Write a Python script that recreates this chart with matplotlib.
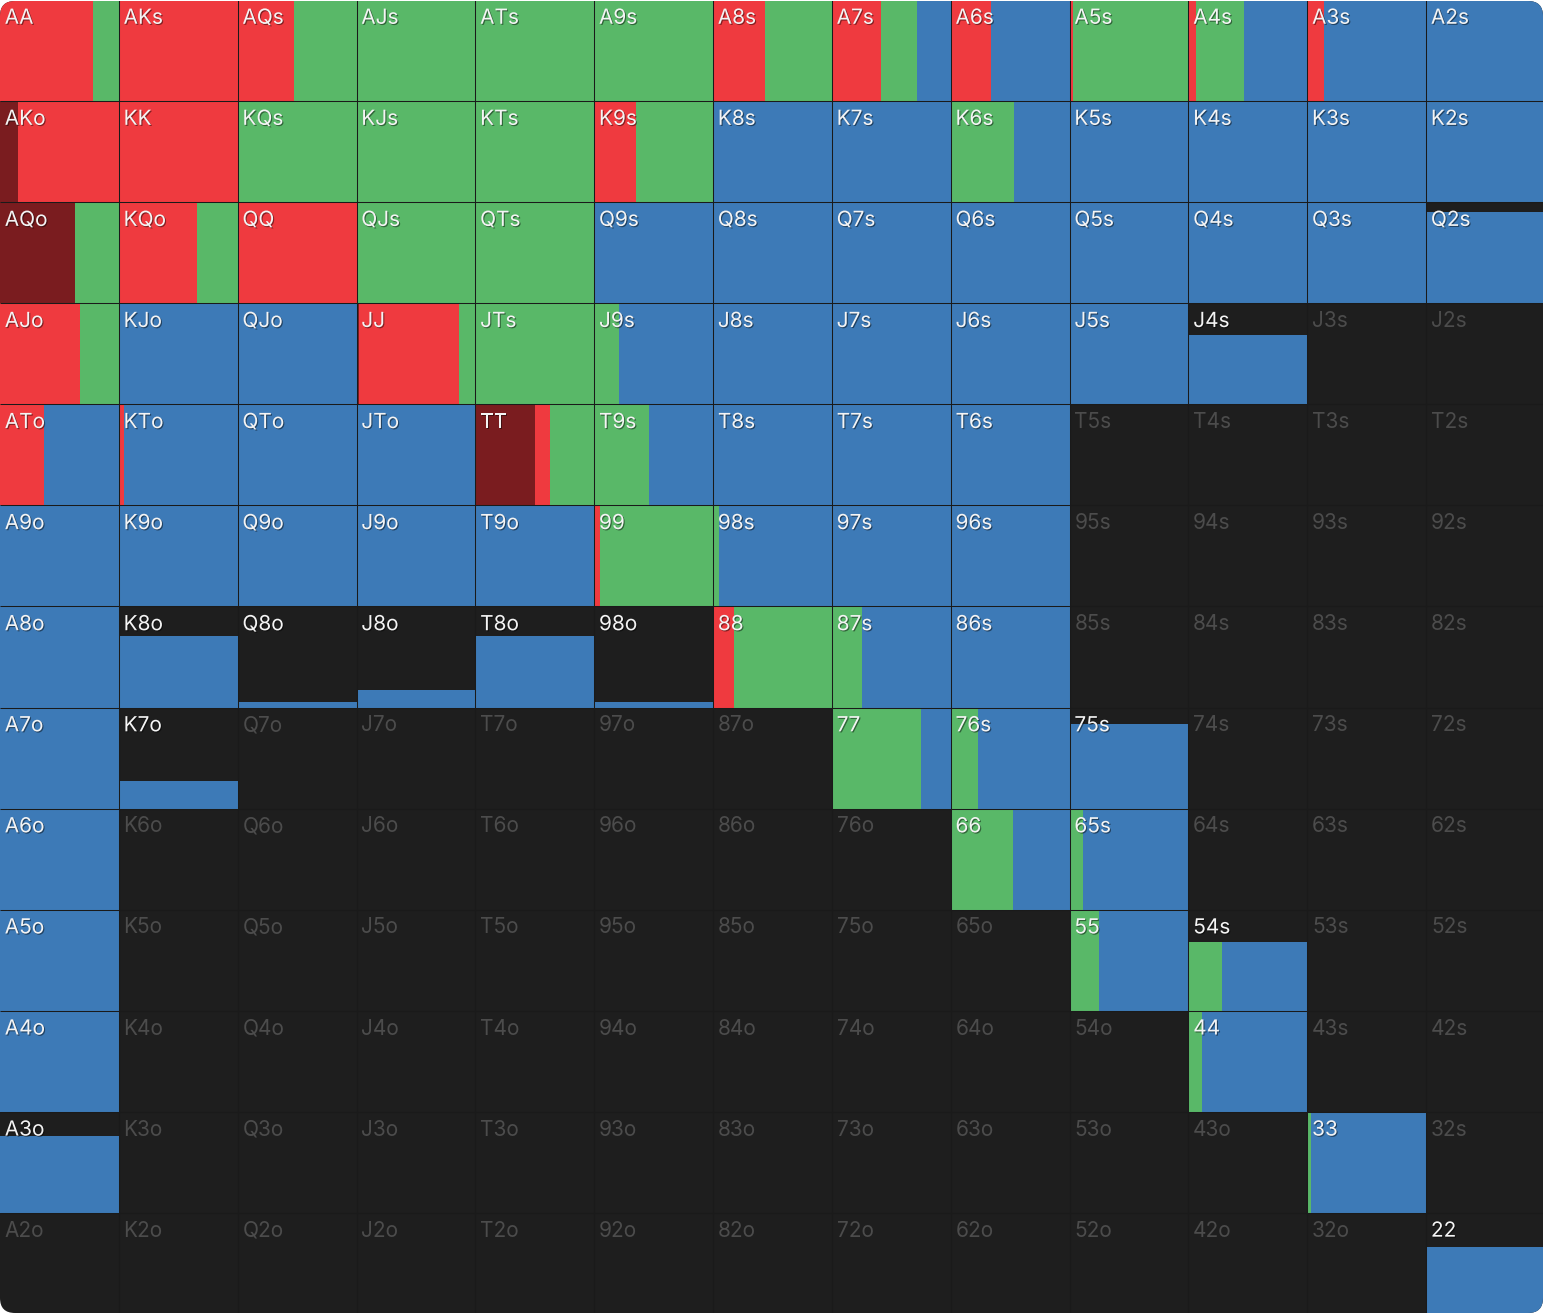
import matplotlib
matplotlib.use('Agg')
import matplotlib.pyplot as plt
from matplotlib.patches import FancyBboxPatch
from matplotlib.transforms import IdentityTransform
import matplotlib.patheffects as pe

plt.rcParams['font.family'] = ['Inter', 'DejaVu Sans']

ranks = 'AKQJT98765432'

# hands that are in the range, with the share of combos played (bar height)
# and how that share splits between the four actions (left to right)
hands = ['AA', 'AKs', 'AQs', 'AJs', 'ATs', 'A9s', 'A8s', 'A7s', 'A6s', 'A5s', 'A4s', 'A3s', 'A2s',
         'AKo', 'KK', 'KQs', 'KJs', 'KTs', 'K9s', 'K8s', 'K7s', 'K6s', 'K5s', 'K4s', 'K3s', 'K2s',
         'AQo', 'KQo', 'QQ', 'QJs', 'QTs', 'Q9s', 'Q8s', 'Q7s', 'Q6s', 'Q5s', 'Q4s', 'Q3s', 'Q2s',
         'AJo', 'KJo', 'QJo', 'JJ', 'JTs', 'J9s', 'J8s', 'J7s', 'J6s', 'J5s', 'J4s',
         'ATo', 'KTo', 'QTo', 'JTo', 'TT', 'T9s', 'T8s', 'T7s', 'T6s',
         'A9o', 'K9o', 'Q9o', 'J9o', 'T9o', '99', '98s', '97s', '96s',
         'A8o', 'K8o', 'Q8o', 'J8o', 'T8o', '98o', '88', '87s', '86s',
         'A7o', 'K7o', '77', '76s', '75s',
         'A6o', '66', '65s',
         'A5o', '55', '54s',
         'A4o', '44',
         'A3o', '33',
         '22']
freq = [1, 1, 1, 1, 1, 1, 1, 1, 1, 1, 1, 1, 1,
        1, 1, 1, 1, 1, 1, 1, 1, 1, 1, 1, 1, 1,
        1, 1, 1, 1, 1, 1, 1, 1, 1, 1, 1, 1, 0.9,
        1, 1, 1, 1, 1, 1, 1, 1, 1, 1, 0.69,
        1, 1, 1, 1, 1, 1, 1, 1, 1,
        1, 1, 1, 1, 1, 1, 1, 1, 1,
        1, 0.71, 0.05, 0.17, 0.71, 0.05, 1, 1, 1,
        1, 0.27, 1, 1, 0.84,
        1, 1, 1,
        1, 1, 0.68,
        1, 1,
        0.76, 1,
        0.66]
allin = [0, 0, 0, 0, 0, 0, 0, 0, 0, 0, 0, 0, 0,
         0.15, 0, 0, 0, 0, 0, 0, 0, 0, 0, 0, 0, 0,
         0.63, 0, 0, 0, 0, 0, 0, 0, 0, 0, 0, 0, 0,
         0, 0, 0, 0.02, 0, 0, 0, 0, 0, 0, 0,
         0, 0, 0, 0, 0.5, 0, 0, 0, 0,
         0, 0, 0, 0, 0, 0, 0, 0, 0,
         0, 0, 0, 0, 0, 0, 0, 0, 0,
         0, 0, 0, 0, 0,
         0, 0, 0,
         0, 0, 0,
         0, 0,
         0, 0,
         0]
raise_ = [0.78, 1, 0.47, 0, 0, 0, 0.44, 0.41, 0.34, 0.03, 0.06, 0.14, 0,
          0.85, 1, 0, 0, 0, 0.35, 0, 0, 0, 0, 0, 0, 0,
          0, 0.66, 1, 0, 0, 0, 0, 0, 0, 0, 0, 0, 0,
          0.67, 0.01, 0, 0.84, 0, 0, 0, 0, 0, 0, 0,
          0.37, 0.04, 0, 0, 0.13, 0, 0, 0, 0,
          0, 0, 0, 0, 0, 0.05, 0, 0, 0,
          0, 0, 0, 0, 0, 0, 0.18, 0, 0,
          0, 0, 0, 0, 0,
          0, 0, 0,
          0, 0, 0,
          0, 0,
          0, 0,
          0]
call = [0.22, 0, 0.53, 1, 1, 1, 0.56, 0.31, 0, 0.97, 0.41, 0, 0,
        0, 0, 1, 1, 1, 0.65, 0, 0, 0.53, 0, 0, 0, 0,
        0.37, 0.34, 0, 1, 1, 0, 0, 0, 0, 0, 0, 0, 0,
        0.33, 0, 0, 0.14, 1, 0.21, 0, 0, 0, 0, 0,
        0, 0, 0, 0, 0.37, 0.46, 0, 0, 0,
        0, 0, 0, 0, 0, 0.95, 0.05, 0, 0,
        0, 0, 0, 0, 0, 0, 0.82, 0.25, 0,
        0, 0, 0.75, 0.23, 0,
        0, 0.52, 0.11,
        0, 0.25, 0.28,
        0, 0.11,
        0, 0.03,
        0]
fold = [0, 0, 0, 0, 0, 0, 0, 0.28, 0.66, 0, 0.53, 0.86, 1,
        0, 0, 0, 0, 0, 0, 1, 1, 0.47, 1, 1, 1, 1,
        0, 0, 0, 0, 0, 1, 1, 1, 1, 1, 1, 1, 1,
        0, 0.99, 1, 0, 0, 0.79, 1, 1, 1, 1, 1,
        0.63, 0.96, 1, 1, 0, 0.54, 1, 1, 1,
        1, 1, 1, 1, 1, 0, 0.95, 1, 1,
        1, 1, 1, 1, 1, 1, 0, 0.75, 1,
        1, 1, 0.25, 0.77, 1,
        1, 0.48, 0.89,
        1, 0.75, 0.72,
        1, 0.89,
        1, 0.97,
        1]

action_colors = ['#7a1c1f', '#ef3a3f', '#59b868', '#3d7ab7']
bg = '#1e1e1e'


def hand_at(r, c):
    if r == c:
        return ranks[r] + ranks[c]
    if r < c:
        return ranks[r] + ranks[c] + 's'
    return ranks[c] + ranks[r] + 'o'


W, H = 1545, 1314
fig = plt.figure(figsize=(W / 100, H / 100), dpi=100, facecolor='white')
ax = fig.add_axes([0, 0, 1, 1])
ax.set_xlim(0, 13)
ax.set_ylim(13, 0)
ax.axis('off')

# rounded card behind the grid, also used as a clip path
card = FancyBboxPatch((0, 1), W - 2, H - 2, boxstyle='round,pad=0,rounding_size=15',
                      transform=IdentityTransform(), facecolor=bg, edgecolor='none', zorder=0)
ax.add_patch(card)

lookup = {h: k for k, h in enumerate(hands)}

for r in range(13):
    for c in range(13):
        h = hand_at(r, c)
        if h not in lookup:
            continue
        k = lookup[h]
        f = freq[k]
        left = c
        for share, col in zip([allin[k], raise_[k], call[k], fold[k]], action_colors):
            if share <= 0:
                continue
            bars = ax.bar(left, f, width=share, bottom=r + 1 - f, align='edge',
                          color=col, linewidth=0, zorder=1)
            for b in bars:
                b.set_clip_path(card)
            left += share

# thin separators between cells
vl = ax.vlines(range(1, 13), 0, 13, color='#1a1a1a', linewidth=0.75, zorder=2)
hl = ax.hlines(range(1, 13), 0, 13, color='#1a1a1a', linewidth=0.75, zorder=2)
vl.set_clip_path(card)
hl.set_clip_path(card)

shadow = [pe.SimplePatchShadow(offset=(0.8, -0.8), shadow_rgbFace='black', alpha=0.45), pe.Normal()]
for r in range(13):
    for c in range(13):
        h = hand_at(r, c)
        active = h in lookup
        ax.text(c + 0.04, r + 0.235, h, fontsize=15, va='baseline', ha='left',
                color='#f4f4f4' if active else '#4c4c4c',
                path_effects=shadow if active else None, zorder=3)

fig.savefig('out.png', dpi=100, facecolor='white')
